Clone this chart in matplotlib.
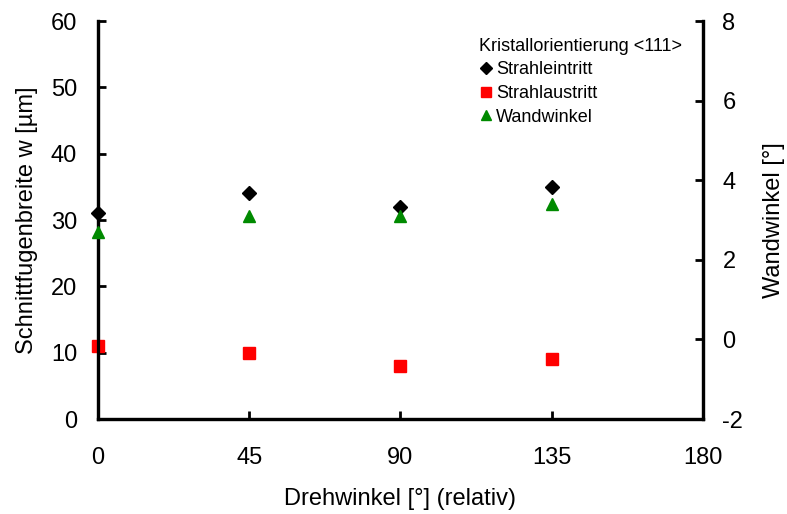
import matplotlib.pyplot as plt

drehwinkel = [0, 45, 90, 135]
strahleintritt = [31, 34, 32, 35]
strahlaustritt = [11, 10, 8, 9]
wandwinkel = [2.7, 3.1, 3.1, 3.4]

plt.rcParams['font.family'] = ['Liberation Sans', 'DejaVu Sans']
plt.rcParams['axes.unicode_minus'] = False

fig = plt.figure(figsize=(7.87, 5.14), dpi=100)
ax = fig.add_axes([0.1245, 0.1848, 0.7687, 0.7743])
ax2 = ax.twinx()

h1, = ax.plot(drehwinkel, strahleintritt, 'D', color='black', markersize=7,
              label='Strahleintritt', clip_on=False, zorder=5)
h2, = ax.plot(drehwinkel, strahlaustritt, 's', color='#ff0000', markersize=8.5,
              label='Strahlaustritt', clip_on=False, zorder=5)
h3, = ax2.plot(drehwinkel, wandwinkel, '^', color='#008a00', markersize=9,
               label='Wandwinkel', clip_on=False, zorder=5)

ax.set_xlim(0, 180)
ax.set_ylim(0, 60)
ax2.set_ylim(-2, 8)
ax.set_xticks([0, 45, 90, 135, 180])
ax.set_yticks(range(0, 61, 10))
ax2.set_yticks(range(-2, 9, 2))

for a in (ax, ax2):
    a.spines['top'].set_visible(False)
    for s in ('left', 'right', 'bottom'):
        a.spines[s].set_linewidth(2.3)
    a.tick_params(direction='in', width=2, length=6, labelsize=17, pad=15)
ax.tick_params(axis='x', pad=20)
ax2.tick_params(axis='y', pad=14)

ax.set_xlabel('Drehwinkel [°] (relativ)', fontsize=17)
ax.set_ylabel('Schnittfugenbreite w [µm]', fontsize=17)
ax2.set_ylabel('Wandwinkel [°]', fontsize=17)
ax.xaxis.set_label_coords(0.5, -0.174)
ax.yaxis.set_label_coords(-0.0992, 0.5)
ax2.yaxis.set_label_coords(1.099, 0.5)

fig.legend(handles=[h1, h2, h3], title='Kristallorientierung <111>', loc='upper left',
           bbox_to_anchor=(479 / 787, 1 - 38 / 514), frameon=False, fontsize=13,
           title_fontsize=13, handlelength=0.78, handletextpad=0.17, borderpad=0,
           borderaxespad=0, labelspacing=0.36, markerscale=0.85, alignment='left')

fig.savefig('out.png', dpi=100)
